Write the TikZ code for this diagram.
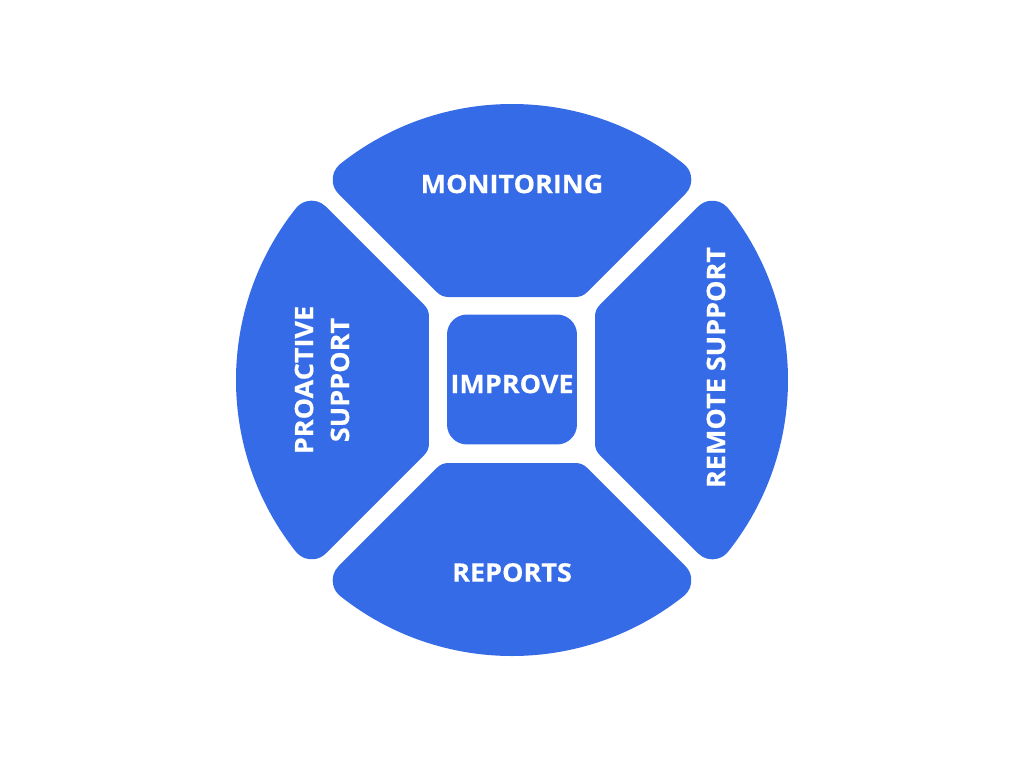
\documentclass[tikz,border=0pt]{standalone}
\usepackage{fontspec}
\setmainfont{Open Sans}[BoldFeatures={FakeStretch=1.06,FakeBold=0.4}]
\definecolor{segblue}{HTML}{356BE6}
\begin{document}
\begin{tikzpicture}[x=0.02cm,y=0.02cm,
  seg/.style={fill=segblue},
  lbl/.style={text=white,font=\bfseries\fontsize{14.5}{20.4}\selectfont,inner sep=0pt,align=center}]
\useasboundingbox (-512,-388) rectangle (512,380);
\foreach \a in {0,90,180,270}{
  \fill[seg,rotate=\a] (-63.645,83) -- (63.645,83)
    arc[start angle=-90,end angle=-45,radius=16] -- (173.49,186.22)
    arc[start angle=-45,end angle=51.50,radius=20]
    arc[start angle=51.50,end angle=128.50,radius=276]
    arc[start angle=128.50,end angle=225,radius=20] -- (-74.96,87.69)
    arc[start angle=225,end angle=270,radius=16] -- cycle;
}
\node[seg,rounded corners=0.4cm,minimum size=2.6cm,inner sep=0pt] (sq) at (0,0.5) {};
\node[lbl] (improve) at (0,-4) {IMPROVE};
\node[lbl] (mon) at (0,196) {MONITORING};
\node[lbl] (rep) at (0,-192.5) {REPORTS};
\node[lbl,rotate=90] (rem) at (204,12.5) {REMOTE SUPPORT};
\node[lbl,rotate=90] (pro) at (-190,0) {PROACTIVE\\SUPPORT};
\end{tikzpicture}
\end{document}
